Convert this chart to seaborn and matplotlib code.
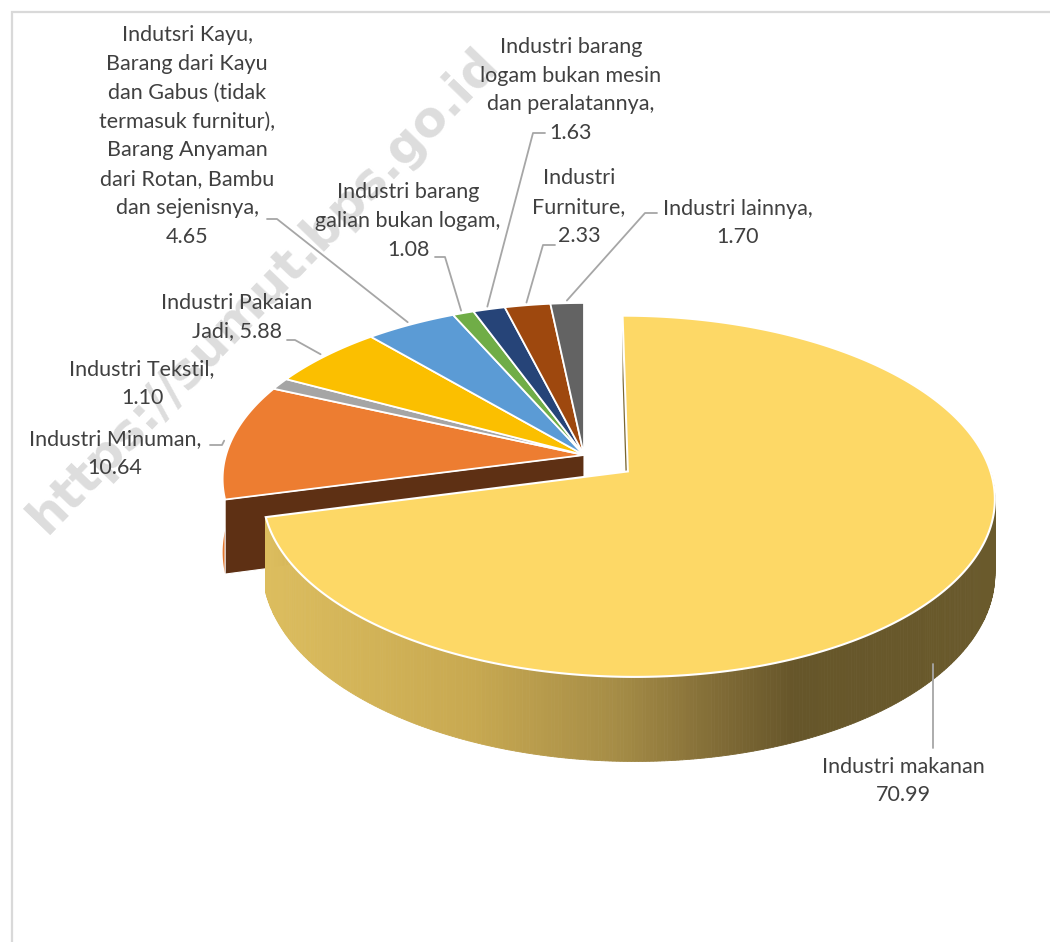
import numpy as np
import matplotlib
matplotlib.use("Agg")
import matplotlib.pyplot as plt
from matplotlib.patches import Polygon
from matplotlib.colors import LinearSegmentedColormap, to_rgb
import seaborn as sns

# ---- data -------------------------------------------------------------
categories = [
    "Industri makanan",
    "Industri Minuman",
    "Industri Tekstil",
    "Industri Pakaian Jadi",
    "Indutsri Kayu, Barang dari Kayu dan Gabus",
    "Industri barang galian bukan logam",
    "Industri barang logam bukan mesin dan peralatannya",
    "Industri Furniture",
    "Industri lainnya",
]
values = [70.99, 10.64, 1.10, 5.88, 4.65, 1.08, 1.63, 2.33, 1.70]
label_templates = [
    "Industri makanan\n{v}",
    "Industri Minuman,\n{v}",
    "Industri Tekstil,\n{v}",
    "Industri Pakaian\nJadi, {v}",
    "Indutsri Kayu,\nBarang dari Kayu\ndan Gabus (tidak\ntermasuk furnitur),\n"
    "Barang Anyaman\ndari Rotan, Bambu\ndan sejenisnya,\n{v}",
    "Industri barang\ngalian bukan logam,\n{v}",
    "Industri barang\nlogam bukan mesin\ndan peralatannya,\n{v}",
    "Industri\nFurniture,\n{v}",
    "Industri lainnya,\n{v}",
]
slice_colors = ["#FDD866", "#ED7D31", "#A5A5A5", "#FBBF00", "#5B9BD5",
                "#70AD47", "#264478", "#9E480E", "#636363"]

# label block centres and leader elbows (pixel layout)
label_pos = [(903, 781), (115, 454), (142, 384), (237, 317), (187, 136),
             (408, 221), (571, 90), (579, 207), (738, 223)]
leader_elbows = [None,
                 [(222, 445), (210, 445)],
                 None,
                 [(295, 340), (287, 340)],
                 [(277, 219), (267, 219)],
                 [(445, 257), (435, 257)],
                 [(533, 133), (545, 133)],
                 [(543, 245), (555, 245)],
                 [(645, 213), (657, 213)]]

# ---- geometry of the tilted disc -------------------------------------
CX, CY = 584.0, 455.0     # projected centre
A, B = 172.7, 358.0        # vertical / horizontal semi axes
K = 0.136                  # perspective strength
H = 72.0                   # thickness
EXPLODE = 0.153            # pull-out of the first slice


def proj(u, v, z=0.0):
    s = 1.0 + K * v
    return CX + B * u / s, CY + (-A * v + z * H) / s


def rim(t0, t1, off=(0.0, 0.0), z=0.0, step=0.5):
    n = max(int(abs(t1 - t0) / step) + 2, 3)
    r = np.radians(np.linspace(t0, t1, n))
    return proj(np.sin(r) + off[0], np.cos(r) + off[1], z)


sns.set_theme(style="white")
plt.rcParams["font.family"] = ["Lato", "DejaVu Sans"]
palette = sns.color_palette(slice_colors)

fig = plt.figure(figsize=(10.5, 9.42), dpi=100)
ax = fig.add_axes([0, 0, 1, 1])
ax.set_xlim(0, 1050)
ax.set_ylim(942, 0)
ax.axis("off")

total = float(np.sum(values))
edges = np.concatenate([[0.0], np.cumsum(values)]) / total * 360.0

# frame
ax.plot([12, 12, 1060], [960, 12, 12], color="#D9D9D9", lw=1.6, zorder=0.2,
        solid_joinstyle="miter")

# watermark
ax.text(264, 290, "https://sumut.bps.go.id", rotation=46, rotation_mode="anchor",
        ha="center", va="center", fontsize=35.5, fontweight="bold",
        family="DejaVu Sans", color="#DDDDDD", zorder=0.5)


def shade(c, f):
    r, g, b = to_rgb(c)
    return (r * f, g * f, b * f)


z = 2
# ---- rest of the pie (not pulled out) --------------------------------
t_start = edges[1]
ax0x, ax0y = proj(0.0, 0.0, 0.0)
bx0, by0 = proj(0.0, 0.0, 1.0)
rtx, rty = proj(np.sin(np.radians(t_start)), np.cos(np.radians(t_start)), 0.0)
rbx, rby = proj(np.sin(np.radians(t_start)), np.cos(np.radians(t_start)), 1.0)
# visible outer wall sliver of the second slice
wx, wy = rim(t_start, 270.0, z=0.0)
wbx, wby = rim(t_start, 270.0, z=1.0)
ax.add_patch(Polygon(np.column_stack([np.r_[wx, wbx[::-1]], np.r_[wy, wby[::-1]]]),
                     closed=True, facecolor=shade(palette[1], 0.95),
                     edgecolor="none", zorder=z))
ax.add_patch(Polygon([(ax0x, ax0y), (rtx, rty), (rbx, rby), (bx0, by0)],
                     closed=True, facecolor="#5E3014", edgecolor="white", lw=0.8,
                     zorder=z))
z += 1
for i in range(1, len(values)):
    xs, ys = rim(edges[i], edges[i + 1])
    pts = np.column_stack([np.r_[ax0x, xs], np.r_[ax0y, ys]])
    ax.add_patch(Polygon(pts, closed=True, facecolor=palette[i],
                         edgecolor="white", lw=1.3, zorder=z))

# ---- pulled-out slice ------------------------------------------------
z += 1
mid = np.radians((edges[0] + edges[1]) / 2.0)
off = (EXPLODE * np.sin(mid), EXPLODE * np.cos(mid))
apx, apy = proj(off[0], off[1], 0.0)
apbx, apby = proj(off[0], off[1], 1.0)
r0tx, r0ty = proj(off[0], 1.0 + off[1], 0.0)
r0bx, r0by = proj(off[0], 1.0 + off[1], 1.0)
ax.add_patch(Polygon([(r0tx, r0ty), (apx, apy), (apbx, apby), (r0bx, r0by)],
                     closed=True, facecolor="#7A6630", edgecolor="none", zorder=z))

wall_cmap = LinearSegmentedColormap.from_list(
    "wall", [(0.0, "#DCBD5E"), (0.28, "#C8A951"), (0.48, "#A58C46"),
             (0.62, "#806B36"), (0.72, "#66562A"), (1.0, "#6A5A2C")])
ts = np.arange(90.0, edges[1], 0.5)
ts = np.r_[ts, edges[1]]
for a0, a1 in zip(ts[:-1], ts[1:]):
    r = np.radians([a0, a1])
    u = np.sin(r) + off[0]
    v = np.cos(r) + off[1]
    tx, ty = proj(u, v, 0.0)
    bx, by = proj(u, v, 1.0)
    col = wall_cmap((np.mean(tx) - 265.0) / (1000.0 - 265.0))
    ax.add_patch(Polygon([(tx[0], ty[0]), (tx[1], ty[1]), (bx[1], by[1]), (bx[0], by[0])],
                         closed=True, facecolor=col, edgecolor=col, lw=0.6, zorder=z))
z += 1
xs, ys = rim(edges[0], edges[1], off=off)
ax.add_patch(Polygon(np.column_stack([np.r_[apx, xs], np.r_[apy, ys]]), closed=True,
                     facecolor=palette[0], edgecolor="white", lw=1.5, zorder=z))

# ---- labels and leader lines -----------------------------------------
lead_col = "#A6A6A6"
for i, (tmpl, val) in enumerate(zip(label_templates, values)):
    lx, ly = label_pos[i]
    ax.text(lx, ly, tmpl.format(v=f"{val:.2f}"), ha="center", va="center",
            multialignment="center", fontsize=15.5, color="#404040",
            linespacing=1.56, zorder=10)
    m = np.radians((edges[i] + edges[i + 1]) / 2.0)
    if i == 0:
        sx, sy = proj(np.sin(m) + off[0], np.cos(m) + off[1], 1.0)
        sx -= 12
        ax.plot([sx, sx], [sy - 6, 748], color=lead_col, lw=1.3, zorder=9)
    elif leader_elbows[i] is not None:
        sx, sy = proj(1.02 * np.sin(m), 1.02 * np.cos(m), 0.0)
        px = [sx] + [p[0] for p in leader_elbows[i]]
        py = [sy] + [p[1] for p in leader_elbows[i]]
        ax.plot(px, py, color=lead_col, lw=1.3, zorder=9)

fig.savefig("out.png", dpi=100)
